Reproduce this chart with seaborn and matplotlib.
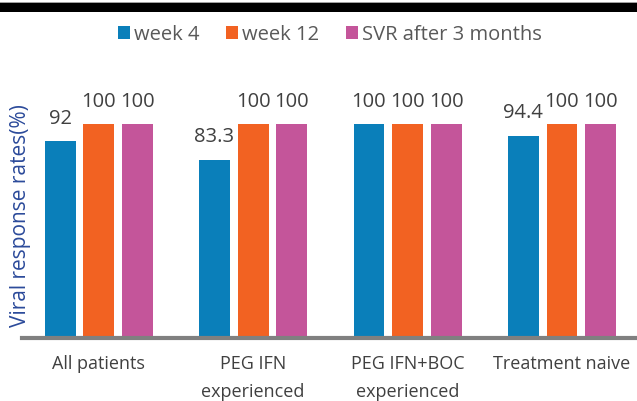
import pandas as pd
import matplotlib.pyplot as plt
import seaborn as sns
from matplotlib.patches import Rectangle

groups = ['All patients', 'PEG IFN\nexperienced', 'PEG IFN+BOC\nexperienced', 'Treatment naive']
series = ['week 4', 'week 12', 'SVR after 3 months']
week4 = [92, 83.3, 100, 94.4]
week12 = [100, 100, 100, 100]
svr = [100, 100, 100, 100]
colors = ['#0a7fba', '#f26222', '#c4559a']

df = pd.DataFrame({'group': groups, 'week 4': week4, 'week 12': week12, 'SVR after 3 months': svr})
df = df.melt(id_vars='group', var_name='series', value_name='rate')

sns.set_style('white')
plt.rcParams['font.family'] = ['Open Sans', 'DejaVu Sans']

fig = plt.figure(figsize=(6.37, 4.01), dpi=100)
ax = fig.add_axes([22 / 637, 63 / 401, 1 - 22 / 637, 0.587])

sns.barplot(data=df, x='group', y='rate', hue='series', hue_order=series,
            palette=colors, width=0.75, gap=0.2, linewidth=0, saturation=1, ax=ax)

for cont in ax.containers:
    ax.bar_label(cont, fmt='%g', padding=9, fontsize=14.5, color='#404040')

ax.set_ylim(0, 110)
ax.set_xlim(-0.497, 3.486)
ax.set_xlabel('')
ax.set_ylabel('Viral response rates(%)', fontsize=15, color='#2b4a9a')
ax.yaxis.set_label_coords(0.014, 0.52)
ax.set_yticks([])
ax.tick_params(axis='x', length=0, pad=12, labelsize=13, labelcolor='#404040')
for lbl in ax.get_xticklabels():
    lbl.set_linespacing(1.75)
for s in ['top', 'right', 'left']:
    ax.spines[s].set_visible(False)
ax.spines['bottom'].set_color('#808080')
ax.spines['bottom'].set_linewidth(3)

ax.legend_.remove()
handles, labels = ax.get_legend_handles_labels()
fig.legend(handles, labels, loc='center', bbox_to_anchor=(0.518, 0.913), ncol=3,
           frameon=False, fontsize=14.5, labelcolor='#595959', handlelength=0.6,
           handleheight=0.6, handletextpad=0.2, columnspacing=1.3)

# dark frame band at the top of the picture
fig.patches.append(Rectangle((0, 1 - 11.5 / 401), 1, 8.5 / 401, transform=fig.transFigure,
                             facecolor='black', edgecolor='none'))
fig.patches.append(Rectangle((0, 1 - 3 / 401), 1, 1.2 / 401, transform=fig.transFigure,
                             facecolor='#a0a0a0', edgecolor='none'))

fig.savefig('out.png', dpi=100)
